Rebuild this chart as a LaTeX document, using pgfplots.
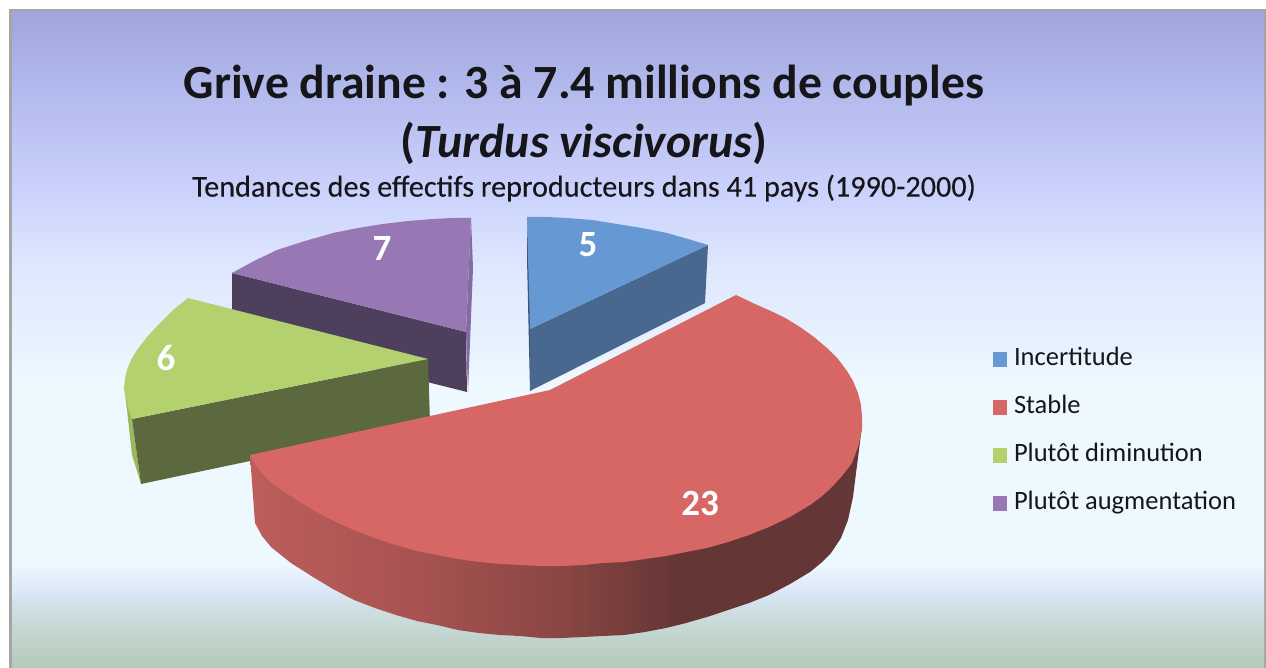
\documentclass[border=0pt]{standalone}
\usepackage{fontspec}
\setmainfont{Carlito}
\newfontfamily\subfont[FakeBold=0.25]{Carlito}
\usepackage{pgfplots}
\pgfplotsset{compat=1.18}
\definecolor{bluetop}{RGB}{102,153,212}
\definecolor{blueside}{RGB}{72,104,143}
\definecolor{blueedge}{RGB}{58,84,122}
\definecolor{redtop}{RGB}{215,103,101}
\definecolor{greentop}{RGB}{179,210,111}
\definecolor{greenside}{RGB}{92,104,61}
\definecolor{greenedge}{RGB}{155,184,90}
\definecolor{purpletop}{RGB}{151,120,181}
\definecolor{purpleside}{RGB}{78,63,92}
\definecolor{purpleedge}{RGB}{134,106,162}
\definecolor{framegray}{RGB}{165,165,165}
\definecolor{txt}{RGB}{22,22,26}
\pgfdeclareverticalshading{chartbg}{100bp}{
 rgb(0bp)=(0.710,0.792,0.722);
 rgb(25bp)=(0.710,0.792,0.722);
 rgb(27.1bp)=(0.750,0.828,0.796);
 rgb(29.4bp)=(0.808,0.871,0.886);
 rgb(31bp)=(0.867,0.910,0.973);
 rgb(33bp)=(0.933,0.973,1.000);
 rgb(47bp)=(0.933,0.973,1.000);
 rgb(50bp)=(0.906,0.945,0.996);
 rgb(55.3bp)=(0.878,0.910,0.996);
 rgb(60.7bp)=(0.800,0.831,0.992);
 rgb(68.3bp)=(0.710,0.737,0.933);
 rgb(75bp)=(0.624,0.647,0.863);
 rgb(100bp)=(0.624,0.647,0.863)}
\pgfdeclarehorizontalshading{redside}{100bp}{
 rgb(0bp)=(0.737,0.369,0.361);
 rgb(25bp)=(0.737,0.369,0.361);
 rgb(37.25bp)=(0.667,0.329,0.322);
 rgb(50.3bp)=(0.541,0.275,0.267);
 rgb(60.1bp)=(0.392,0.212,0.208);
 rgb(75bp)=(0.392,0.212,0.208);
 rgb(100bp)=(0.392,0.212,0.208)}
\begin{document}
\begin{tikzpicture}
\begin{axis}[
  scale only axis, width=1266pt, height=668pt,
  xmin=0, xmax=1266, ymin=0, ymax=668, y dir=reverse,
  hide axis, clip=false,
  legend cell align=left,
  legend style={at={(axis cs:993,347.5)},anchor=north west,draw=none,fill=none,
    font=\fontsize{26.5}{28}\selectfont\color{txt}, row sep=24pt,
    inner sep=0pt, outer sep=0pt,
    /tikz/every odd column/.append style={column sep=7pt},
    nodes={inner sep=0pt, text height=18pt, text depth=6pt}},
  legend image code/.code={\fill[#1] (0pt,-7.5pt) rectangle (14pt,7.5pt);},
]
% page, frame and background
\addplot[forget plot,fill=white,draw=none] coordinates {(0,0)(1266,0)(1266,668)(0,668)};
\addplot[forget plot,fill=framegray,draw=none] coordinates {(9,9)(1266,9)(1266,668)(9,668)};
\addplot[forget plot,shade,shading=chartbg,draw=none] coordinates {(12,12)(1264,12)(1264,668)(12,668)};
% Plutot augmentation
\addplot[forget plot,fill=purpleedge,draw=none] coordinates {(471,218)(473,268)(468,392)(466,332)};
\addplot[forget plot,fill=purpleside,draw=none] coordinates {(232,273)(466,332)(467,392)(232,333)};
\addplot[forget plot,fill=purpletop,draw=none] coordinates {(232,273)(254,261)(277,250)(305,241)(333,233)(358,228)(383,224)(408,221)(433,219)(452,218)(471,218)(466,332)};
% Plutot diminution
\addplot[forget plot,fill=greenedge,draw=none] coordinates {(124,385)(127,410)(132,455)(141,484)(132,419)};
\addplot[forget plot,fill=greenside,draw=none] coordinates {(132,419)(428,359)(430,423)(141,484)};
\addplot[forget plot,fill=greentop,draw=none] coordinates {(188,298)(173,310)(160,323)(147,337)(137,350)(131,360)(127,370)(125,378)(124,387)(125,395)(127,403)(129,411)(132,419)(428,359)};
% Incertitude
\addplot[forget plot,fill=blueedge,draw=none] coordinates {(527,217)(527,258)(530,391)(531,329)};
\addplot[forget plot,fill=blueside,draw=none] coordinates {(530,329)(708,245)(705,303)(530,391)};
\addplot[forget plot,fill=bluetop,draw=none] coordinates {(527,217)(547,217)(567,218)(592,220)(617,224)(642,228)(667,233)(688,239)(708,245)(530,329)};
% Stable
\addplot[forget plot,shade,shading=redside,draw=none] coordinates {(250,455)(255,523)(262,536)(271,547)(291,563)(313,577)(333,589)(354,600)(375,608)(396,615)(417,621)(437,625)(458,630)(479,633)(500,635)(520,636)(541,638)(562,638)(583,637)(603,636)(624,635)(645,632)(666,628)(686,623)(707,617)(728,610)(749,603)(769,595)(790,584)(810,572)(821,563)(831,553)(841,538)(848,520)(853,497)(856,473)(859,450)(862,425)};
\addplot[forget plot,fill=redtop,draw=none] coordinates {(250,455)(550,390)(736,295)(755,304)(773,312)(787,319)(800,327)(814,337)(827,348)(838,359)(847,371)(853,381)(858,393)(861,405)(862,417)(862,430)(858,447)(852,463)(842,476)(831,488)(821,497)(810,505)(790,517)(769,527)(749,535)(728,542)(707,548)(686,552)(666,556)(645,559)(624,562)(603,563)(583,565)(562,566)(541,566)(520,565)(500,564)(479,562)(458,559)(437,555)(417,551)(396,545)(375,538)(354,530)(334,521)(313,510)(292,497)(271,483)(259,470)};
% legend
\addlegendimage{fill=bluetop,draw=none}\addlegendentry{Incertitude}
\addlegendimage{fill=redtop,draw=none}\addlegendentry{Stable}
\addlegendimage{fill=greentop,draw=none}\addlegendentry{Plutôt diminution}
\addlegendimage{fill=purpletop,draw=none}\addlegendentry{Plutôt augmentation}
% texts
\node[text=txt,font=\fontsize{47.7}{50}\selectfont\bfseries] at (axis cs:584,86) {Grive draine : 3 à 7.4 millions de couples};
\node[text=txt,font=\fontsize{47.7}{50}\selectfont\bfseries] at (axis cs:584,143) {(\textit{Turdus viscivorus})};
\node[text=txt,font=\fontsize{30.2}{33}\subfont] at (axis cs:584,188) {Tendances des effectifs reproducteurs dans 41 pays (1990-2000)};
\node[text=white,font=\fontsize{37}{39}\selectfont\bfseries] at (axis cs:588,245) {5};
\node[text=white,font=\fontsize{37}{39}\selectfont\bfseries] at (axis cs:700,503) {23};
\node[text=white,font=\fontsize{37}{39}\selectfont\bfseries] at (axis cs:166,358) {6};
\node[text=white,font=\fontsize{37}{39}\selectfont\bfseries] at (axis cs:382,249) {7};
\end{axis}
\end{tikzpicture}
\end{document}
